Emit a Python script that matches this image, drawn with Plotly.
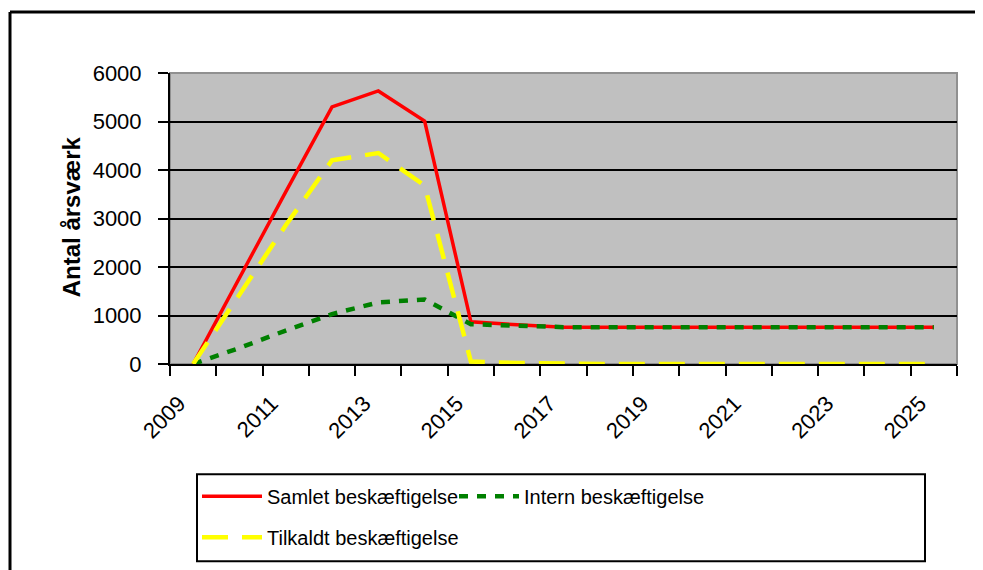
import plotly.graph_objects as go

years = list(range(2009, 2026))
samlet = [0, 1780, 3550, 5300, 5630, 5010, 870, 810, 760, 760, 760, 760, 760, 760, 760, 760, 760]
intern = [0, 330, 690, 1030, 1270, 1330, 820, 790, 760, 760, 760, 760, 760, 760, 760, 760, 760]
tilkaldt = [0, 1450, 2860, 4200, 4350, 3680, 50, 20, 0, 0, 0, 0, 0, 0, 0, 0, 0]
tick_years = years[::2]
names = ["Samlet beskæftigelse", "Intern beskæftigelse", "Tilkaldt beskæftigelse"]

FONT = "Liberation Sans, Arial, sans-serif"

fig = go.Figure()
fig.add_trace(go.Scatter(x=years, y=samlet, mode="lines", name=names[0],
                         line=dict(color="#ff0000", width=3.5), legend="legend"))
fig.add_trace(go.Scatter(x=years, y=intern, mode="lines", name=names[1],
                         line=dict(color="#008000", width=4.5, dash="9px,9px"), legend="legend"))
fig.add_trace(go.Scatter(x=years, y=tilkaldt, mode="lines", name=names[2],
                         line=dict(color="#ffff00", width=4.5, dash="26px,14px"), legend="legend2"))

OFF = 8  # page body margin
W, H = 983 - OFF, 570 - OFF
# plot area in screen coordinates
X0, X1, Y0, Y1 = 170, 957, 73, 364.5
L = X0 - OFF
T = Y0 - OFF
R = W - (X1 - OFF)
B = H - (Y1 - OFF)
pw = X1 - X0
ph = Y1 - Y0

def px(x):
    return (x - X0) / pw

def py(y):
    return (Y1 - y) / ph

fig.update_layout(
    width=W, height=H,
    margin=dict(l=L, r=R, t=T, b=B, autoexpand=False),
    paper_bgcolor="white",
    plot_bgcolor="#c0c0c0",
    font=dict(family=FONT, color="black", size=20),
    xaxis=dict(
        range=[2008.5, 2025.5],
        tickvals=tick_years,
        ticktext=[str(y) for y in tick_years],
        tickangle=-45,
        ticks="",
        showgrid=False,
        zeroline=False,
        showline=True, linecolor="black", linewidth=2,
        tickfont=dict(size=22, family=FONT),
        ticklabelstandoff=16,
        ticklabelshift=-14,
        minor=dict(tick0=2008.5, dtick=1, ticks="outside", ticklen=10,
                   tickcolor="black", tickwidth=2, showgrid=False),
        fixedrange=True,
    ),
    yaxis=dict(
        range=[0, 6000],
        dtick=1000,
        ticks="outside", ticklen=10, tickcolor="black", tickwidth=2,
        showgrid=True, gridcolor="black", gridwidth=1.5,
        zeroline=False,
        showline=True, linecolor="black", linewidth=2,
        tickfont=dict(size=22, family=FONT),
        ticklabelstandoff=12,
        fixedrange=True,
    ),
    legend=dict(
        orientation="h",
        x=px(197), xanchor="left",
        y=py(497), yanchor="middle",
        bgcolor="rgba(0,0,0,0)",
        font=dict(size=20, family=FONT),
        itemwidth=60,
        entrywidth=182,
        entrywidthmode="pixels",
        tracegroupgap=0,
    ),
    legend2=dict(
        orientation="h",
        x=px(197), xanchor="left",
        y=py(538), yanchor="middle",
        bgcolor="rgba(0,0,0,0)",
        font=dict(size=20, family=FONT),
        itemwidth=60,
    ),
    showlegend=True,
)

# plot area border (top/right gray)
fig.add_shape(type="rect", xref="paper", yref="paper", x0=0, x1=1, y0=0, y1=1,
              line=dict(color="#909090", width=2), layer="below")
# legend box
fig.add_shape(type="rect", xref="paper", yref="paper",
              x0=px(197), x1=px(925), y0=py(562), y1=py(475),
              line=dict(color="black", width=2))
# outer chart border (left and top visible)
fig.add_shape(type="line", xref="paper", yref="paper",
              x0=px(10), x1=px(10), y0=py(12), y1=py(580),
              line=dict(color="black", width=3))
fig.add_shape(type="line", xref="paper", yref="paper",
              x0=px(10), x1=px(995), y0=py(12), y1=py(12),
              line=dict(color="black", width=3))

fig.add_annotation(text="<b>Antal årsværk</b>", xref="paper", yref="paper",
                   x=px(56), y=py(217), textangle=-90, showarrow=False,
                   font=dict(size=24, family=FONT, color="black"))

fig.write_html("out.html")
